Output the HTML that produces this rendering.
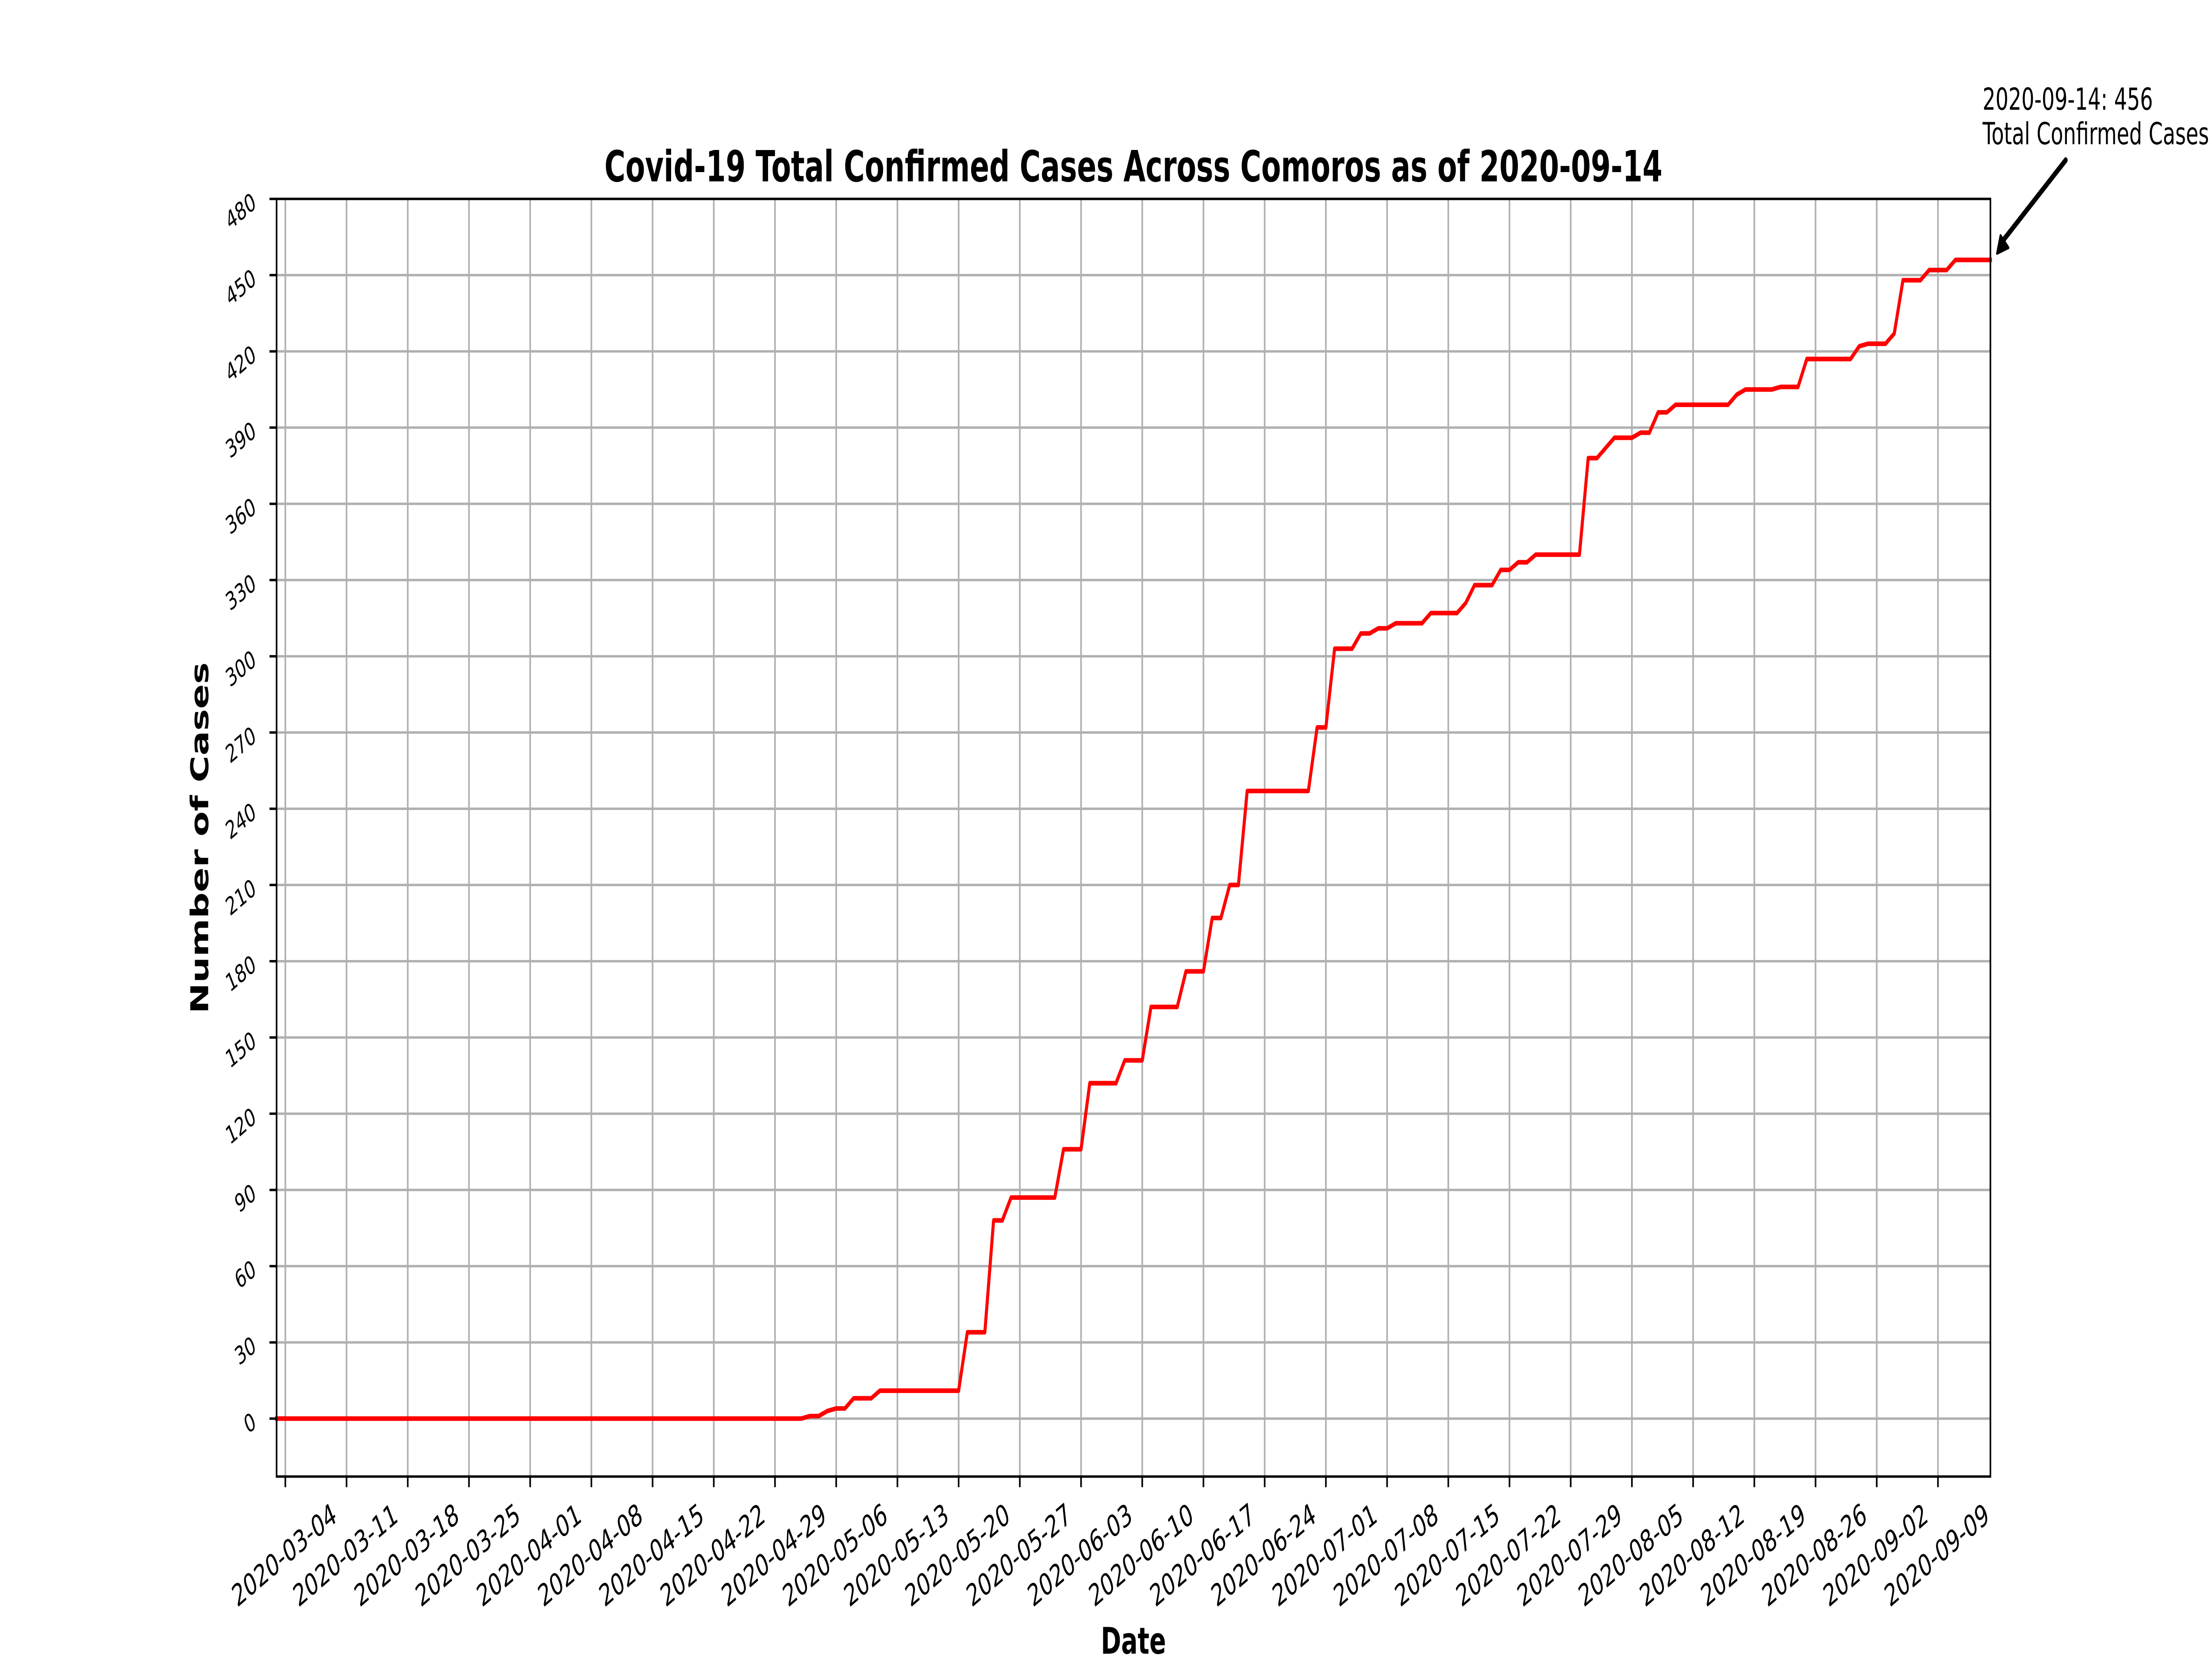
<!DOCTYPE html>
<html><head><meta charset="utf-8">
<style>
html,body{margin:0;padding:0;background:#fff;width:100%;height:100%;overflow:hidden;}
svg{display:block;width:100vw;height:100vh;}
text{font-family:"DejaVu Sans","Liberation Sans",sans-serif;fill:#000;}
</style></head>
<body>
<svg id="chart" xmlns="http://www.w3.org/2000/svg" viewBox="0 0 7500 3750" preserveAspectRatio="none">
<rect width="7500" height="3750" fill="#fff"/>
<g id="grid"></g>
<g id="series"></g>
<g id="axes"></g>
<text x="3843" y="410" text-anchor="middle" font-size="97" font-weight="bold">Covid-19 Total Confirmed Cases Across Comoros as of 2020-09-14</text>
<text x="3843" y="3738" text-anchor="middle" font-size="83" font-weight="bold">Date</text>
<text transform="translate(706,1894) rotate(-90)" text-anchor="middle" font-size="83" font-weight="bold">Number of Cases</text>
<g>
<text x="6722" y="248" font-size="69">2020-09-14: 456</text>
<text x="6722" y="326" font-size="69">Total Confirmed Cases</text>
<line x1="7004" y1="362" x2="6790" y2="545" stroke="#000" stroke-width="13" stroke-linecap="round"/>
<polygon points="6771,573 6783,532 6810,560" fill="#000" stroke="#000" stroke-width="6" stroke-linejoin="round"/>
</g>
</svg>
<script>
const startDate = "2020-03-03";
const caseValues = [
0,0,0,0,0,0,0,0,0,0,0,0,0,0,0,0,0,0,0,0,0,0,0,0,0,0,0,0,0,
0,0,0,0,0,0,0,0,0,0,0,0,0,0,0,0,0,0,0,0,0,0,0,0,0,0,0,0,0,0,0,
0,
1,1,3,4,4,8,8,8,11,11,11,11,11,11,11,11,11,11,34,34,34,78,78,87,87,87,87,87,87,106,
106,106,132,132,132,132,141,141,141,162,162,162,162,176,176,176,197,197,210,210,247,247,247,247,247,247,247,247,272,272,
303,303,303,309,309,311,311,313,313,313,313,317,317,317,317,321,328,328,328,334,334,337,337,340,340,340,340,340,340,378,378,
382,386,386,386,388,388,396,396,399,399,399,399,399,399,399,403,405,405,405,405,406,406,406,417,417,417,417,417,417,422,423,
423,423,427,448,448,448,452,452,452,456,456,456,456,456
];
const xTickLabels = ["2020-03-04","2020-03-11","2020-03-18","2020-03-25","2020-04-01","2020-04-08","2020-04-15","2020-04-22","2020-04-29","2020-05-06","2020-05-13","2020-05-20","2020-05-27","2020-06-03","2020-06-10","2020-06-17","2020-06-24","2020-07-01","2020-07-08","2020-07-15","2020-07-22","2020-07-29","2020-08-05","2020-08-12","2020-08-19","2020-08-26","2020-09-02","2020-09-09"];
const yTickValues = [0,30,60,90,120,150,180,210,240,270,300,330,360,390,420,450,480];

const NS = "http://www.w3.org/2000/svg";
const X0 = 937.8, X1 = 6748.7, YT = 449.6, YB = 3337.6;
const yMin = -22.8, yMax = 480;
const DAY = 86400000;
const t0 = Date.parse(startDate + "T00:00:00Z");
const nDays = caseValues.length - 1;
function dayOf(s){ return (Date.parse(s + "T00:00:00Z") - t0) / DAY; }
function xScale(d){ return X0 + d / nDays * (X1 - X0); }
function yScale(v){ return YB - (v - yMin) / (yMax - yMin) * (YB - YT); }
function mk(tag, attrs, parent){
  const e = document.createElementNS(NS, tag);
  for (const k in attrs) e.setAttribute(k, attrs[k]);
  parent.appendChild(e);
  return e;
}
const grid = document.getElementById("grid");
const series = document.getElementById("series");
const axes = document.getElementById("axes");

xTickLabels.forEach(function(lbl){
  const x = xScale(dayOf(lbl));
  const g = mk("line", {x1:x, y1:YT, x2:x, y2:YB, stroke:"#b0b0b0", "stroke-width":5.5}, grid);
  
  
  const t = mk("line", {x1:x, y1:YB, x2:x, y2:YB+24, stroke:"#000", "stroke-width":5.5}, axes);
  
  
  const tx = mk("text", {transform:"translate(" + (x-4) + ",3515) rotate(-30)", "text-anchor":"middle", "dominant-baseline":"central", "font-size":68}, axes);
  tx.textContent = lbl;
  
  
});
yTickValues.forEach(function(v){
  const y = yScale(v);
  const g = mk("line", {x1:X0, y1:y, x2:X1, y2:y, stroke:"#b0b0b0", "stroke-width":5.5}, grid);
  
  
  const t = mk("line", {x1:X0-24, y1:y, x2:X0, y2:y, stroke:"#000", "stroke-width":5.5}, axes);
  
  
  const s = String(v);
  const w = s.length * 0.636 * 56;
  const cx = 873 - (0.866 * w + 20) / 2;
  const cy = y + 2 + w * 0.25;
  const tx = mk("text", {transform:"translate(" + cx + "," + cy + ") rotate(-30)", "text-anchor":"middle", "dominant-baseline":"central", "font-size":56}, axes);
  tx.textContent = s;
  
  
});
let pts = caseValues.map(function(v, i){ return xScale(i).toFixed(1) + "," + yScale(v).toFixed(1); }).join(" ");
const line = mk("polyline", {points:pts, fill:"none", stroke:"#ff0000", "stroke-width":10.4, "stroke-linejoin":"round", "stroke-linecap":"square"}, series);


const frame = mk("rect", {x:X0, y:YT, width:X1-X0, height:YB-YT, fill:"none", stroke:"#000", "stroke-width":5.5}, axes);


</script>
</body></html>
